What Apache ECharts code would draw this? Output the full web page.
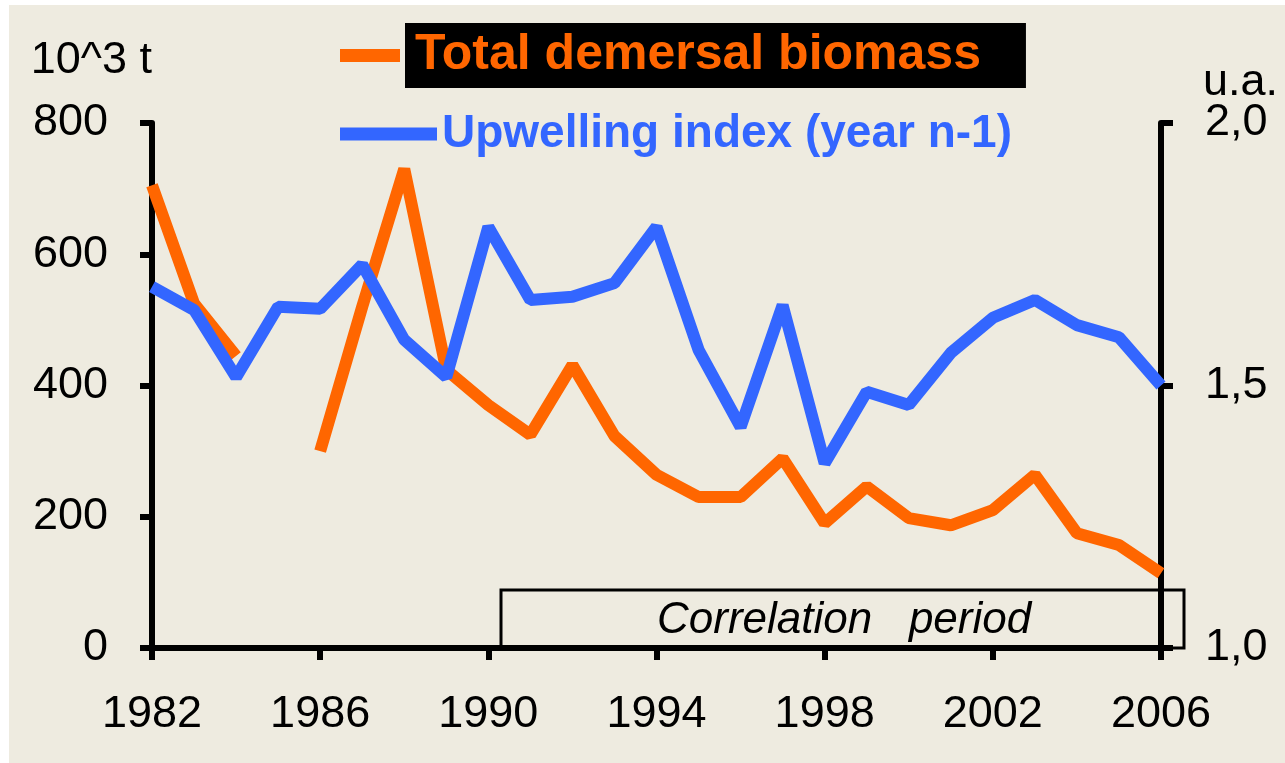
<!DOCTYPE html>
<html>
<head>
<meta charset="utf-8">
<script src="https://cdn.jsdelivr.net/npm/echarts@6/dist/echarts.min.js"></script>
<style>
html,body{margin:0;padding:0;background:#ffffff;}
#chart{width:1285px;height:763px;}
</style>
</head>
<body>
<div id="chart"></div>
<script>
const years = ['1982','1983','1984','1985','1986','1987','1988','1989','1990','1991','1992','1993','1994','1995','1996','1997','1998','1999','2000','2001','2002','2003','2004','2005','2006'];
const biomass = [705, 525, 445, null, 300, 520, 730, 424, 370, 325, 431, 323, 264, 230, 230, 289, 190, 246, 198, 187, 210, 264, 175, 157, 114];
const upwelling = [1.688, 1.644, 1.516, 1.650, 1.646, 1.730, 1.587, 1.516, 1.802, 1.663, 1.669, 1.695, 1.802, 1.568, 1.421, 1.653, 1.352, 1.488, 1.463, 1.562, 1.629, 1.663, 1.615, 1.592, 1.500];
const leftTicks = [0, 800, 200];
const rightTicks = [1.0, 2.0, 0.5];
const seriesNames = ['Total demersal biomass', 'Upwelling index (year n-1)'];
const leftUnit = '10^3 t';
const rightUnit = 'u.a.';
const noteText = 'Correlation   period';

const FONT = "'Liberation Sans', Arial, sans-serif";
const ORANGE = '#ff6600';
const BLUE = '#3366ff';
const BG = '#eeebe0';

const chart = echarts.init(document.getElementById('chart'), null, {renderer: 'canvas'});

const axisLineStyle = {show: true, lineStyle: {color: '#000', width: 6}};
const axisTickStyle = {show: true, inside: false, length: 12, lineStyle: {color: '#000', width: 6}};

chart.setOption({
  backgroundColor: '#ffffff',
  animation: false,
  grid: {left: 152, right: 124, top: 123, bottom: 115, containLabel: false},
  graphic: [
    {type: 'rect', z: -100, silent: true, shape: {x: 9, y: 5, width: 1285, height: 760}, style: {fill: BG}},
    {type: 'rect', z: 1, silent: true, shape: {x: 501, y: 590, width: 683, height: 58}, style: {fill: 'none', stroke: '#000', lineWidth: 3}},
    {type: 'text', z: 5, silent: true, x: 657, y: 621, style: {text: noteText, font: 'italic 44px ' + FONT, fill: '#000', verticalAlign: 'middle', align: 'left'}}
  ],
  legend: [
    {
      data: [seriesNames[0]], left: 340, top: 23, padding: 0, orient: 'horizontal', selectedMode: false,
      icon: 'rect', itemWidth: 60, itemHeight: 13,
      textStyle: {color: ORANGE, fontWeight: 'bold', fontSize: 50, fontFamily: FONT,
        backgroundColor: '#000', padding: [8, 45, 7, 10], lineHeight: 50}
    },
    {
      data: [seriesNames[1]], left: 340, top: 111, padding: 0, orient: 'horizontal', selectedMode: false,
      icon: 'rect', itemWidth: 97, itemHeight: 13,
      textStyle: {color: BLUE, fontWeight: 'bold', fontSize: 46, fontFamily: FONT, lineHeight: 46}
    }
  ],
  xAxis: {
    type: 'category', data: years, boundaryGap: false,
    axisLine: axisLineStyle,
    axisTick: Object.assign({interval: 3}, axisTickStyle),
    axisLabel: {interval: 3, color: '#000', fontSize: 45, fontFamily: FONT, margin: 44},
    splitLine: {show: false}
  },
  yAxis: [
    {
      type: 'value', position: 'left', min: leftTicks[0], max: leftTicks[1], interval: leftTicks[2],
      name: leftUnit, nameLocation: 'end', nameGap: 40, nameMoveOverlap: false,
      nameTextStyle: {color: '#000', fontSize: 45, fontFamily: FONT, align: 'right', padding: [0, 0, 0, 0]},
      axisLine: axisLineStyle, axisTick: axisTickStyle,
      axisLabel: {color: '#000', fontSize: 45, fontFamily: FONT, margin: 44},
      splitLine: {show: false}
    },
    {
      type: 'value', position: 'right', min: rightTicks[0], max: rightTicks[1], interval: rightTicks[2],
      name: rightUnit, nameLocation: 'end', nameGap: 18, nameMoveOverlap: false,
      nameTextStyle: {color: '#000', fontSize: 45, fontFamily: FONT, align: 'left', padding: [0, 0, 0, 42]},
      axisLine: axisLineStyle, axisTick: axisTickStyle,
      axisLabel: {color: '#000', fontSize: 45, fontFamily: FONT, margin: 44,
        formatter: v => v.toFixed(1).replace('.', ',')},
      splitLine: {show: false}
    }
  ],
  series: [
    {
      name: seriesNames[0], type: 'line', yAxisIndex: 0, data: biomass, connectNulls: false,
      symbol: 'none', smooth: false, z: 3,
      lineStyle: {color: ORANGE, width: 12}, itemStyle: {color: ORANGE}
    },
    {
      name: seriesNames[1], type: 'line', yAxisIndex: 1, data: upwelling,
      symbol: 'none', smooth: false, z: 4,
      lineStyle: {color: BLUE, width: 12}, itemStyle: {color: BLUE}
    }
  ]
});
</script>
</body>
</html>
